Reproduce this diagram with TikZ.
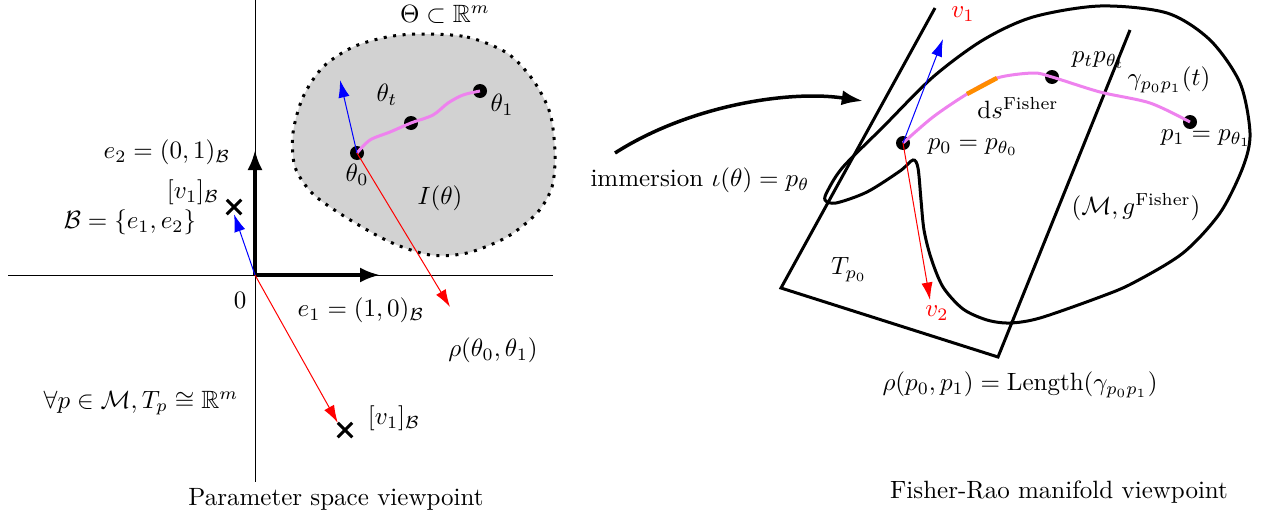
\documentclass[tikz,border=0pt]{standalone}
\usepackage{amsmath,amssymb}
\usetikzlibrary{arrows.meta,shapes.misc}
\definecolor{geoviolet}{RGB}{238,130,238}
\definecolor{dsorange}{RGB}{255,140,0}
\begin{document}
\begin{tikzpicture}[x=0.4pt, y=-0.4pt,
  dot/.style={circle, fill=black, inner sep=0pt, minimum size=5.6pt},
  xmark/.style={cross out, draw, line width=1.2pt, minimum size=4.6pt, inner sep=0pt},
  basis/.style={line width=1.4pt, -{Latex[length=8pt, width=6pt]}},
  vec/.style={-{Latex[length=7pt, width=4.5pt]}},
  geod/.style={line width=1.2pt, geoviolet}]
\useasboundingbox (0,0) rectangle (1266,520);

% parameter space viewpoint
\coordinate (o) at (255,275);
\draw (8,275) -- (553,275);
\draw (255,0) -- (255,482);
\draw[fill=gray!35, line width=1.2pt, dash pattern=on 1.2pt off 2.6pt] plot[smooth cycle] coordinates {
  (420,34) (467,37) (507,53) (533,80) (550,113) (555,153) (552,187) (537,213) (507,237)
  (467,253) (430,255) (390,242) (347,218) (313,194) (295,167) (293,133) (303,97) (323,67) (353,47) (387,37)};
\node[dot] (t0) at (357,153) {};
\node[dot] (tt) at (411,123) {};
\node[dot] (t1) at (480,91) {};
\draw[geod] plot[smooth] coordinates {(357,153) (370,140) (390,132) (411,123) (433,115) (448,103) (463,95) (480,91)};
\coordinate (b1) at (340,80);
\coordinate (r1) at (450,307);
\draw[vec, blue] (t0.center) -- (b1);
\draw[vec, red] (t0.center) -- (r1);
\coordinate (e1) at (380,275);
\coordinate (e2) at (255,150);
\draw[basis] (o) -- (e1);
\draw[basis] (o) -- (e2);
\node[xmark] (x1) at (234,207) {};
\node[xmark] (x2) at (345,430) {};
\draw[vec, blue] (o) -- (x1.south);
\draw[vec, red] (o) -- (x2.north west);
\node (theta) at (445,14) {$\Theta\subset\mathbb{R}^m$};
\node at (387,95) {$\theta_t$};
\node at (502,105) {$\theta_1$};
\node at (357,175) {$\theta_0$};
\node at (440,198) {$I(\theta)$};
\node at (167,152) {$e_2=(0,1)_{\mathcal{B}}$};
\node at (193,192) {$[v_1]_{\mathcal{B}}$};
\node at (130,222) {$\mathcal{B}=\{e_1,e_2\}$};
\node at (240,300) {$0$};
\node at (361,310) {$e_1=(1,0)_{\mathcal{B}}$};
\node at (493,350) {$\rho(\theta_0,\theta_1)$};
\node at (141,403) {$\forall p\in\mathcal{M}, T_p\cong\mathbb{R}^m$};
\node at (394,418) {$[v_1]_{\mathcal{B}}$};
\node at (336,499) {Parameter space viewpoint};

% immersion
\coordinate (imm) at (615,153);
\coordinate (immend) at (863,101);
\draw[line width=1.4pt, -{Latex[length=8.5pt, width=6pt]}] (imm) .. controls (690,105) and (790,90) .. (immend);
\node at (700,180) {immersion $\iota(\theta)=p_\theta$};

% Fisher-Rao manifold viewpoint
\draw[line width=1.2pt] (935,8) -- (781,288) -- (998,357) -- (1130,30);
\draw[line width=1.2pt] plot[smooth cycle] coordinates {
  (825,200) (836,203) (867,192) (900,171) (913,160) (918,168) (921,200) (924,230) (931,258)
  (943,287) (963,309) (987,320) (1010,323) (1040,318) (1100,297) (1133,283) (1183,253)
  (1220,213) (1243,167) (1250,133) (1240,83) (1210,40) (1167,13) (1100,6) (1033,17)
  (983,40) (933,77) (883,127) (843,167) (828,190)};
\node[dot] (p0) at (903,143) {};
\node[dot] (pt) at (1052,77) {};
\node[dot] (p1) at (1190,122) {};
\draw[geod] plot[smooth] coordinates {(903,143) (933,117) (967,94) (997,78) (1033,73) (1052,77) (1100,92) (1150,103) (1190,122)};
\draw[line width=1.8pt, dsorange] (967,94) -- (997,78);
\coordinate (v1) at (943,39);
\coordinate (v2) at (930,300);
\draw[vec, blue] (p0.center) -- (v1);
\draw[vec, red] (p0.center) -- (v2);
\node[red] at (963,14) {$v_1$};
\node[red] at (937,313) {$v_2$};
\node[anchor=west] at (1063,60) {$p_tp_{\theta_t}$};
\node at (1169,80) {$\gamma_{p_0p_1}(t)$};
\node at (1018,108) {$\mathrm{d}s^{\text{Fisher}}$};
\node at (973,147) {$p_0=p_{\theta_0}$};
\node at (1206,138) {$p_1=p_{\theta_1}$};
\node at (1136,207) {$(\mathcal{M},g^{\text{Fisher}})$};
\node at (849,270) {$T_{p_0}$};
\node at (1020,385) {$\rho(p_0,p_1)=\text{Length}(\gamma_{p_0p_1})$};
\node at (1059,492) {Fisher-Rao manifold viewpoint};
\end{tikzpicture}
\end{document}
